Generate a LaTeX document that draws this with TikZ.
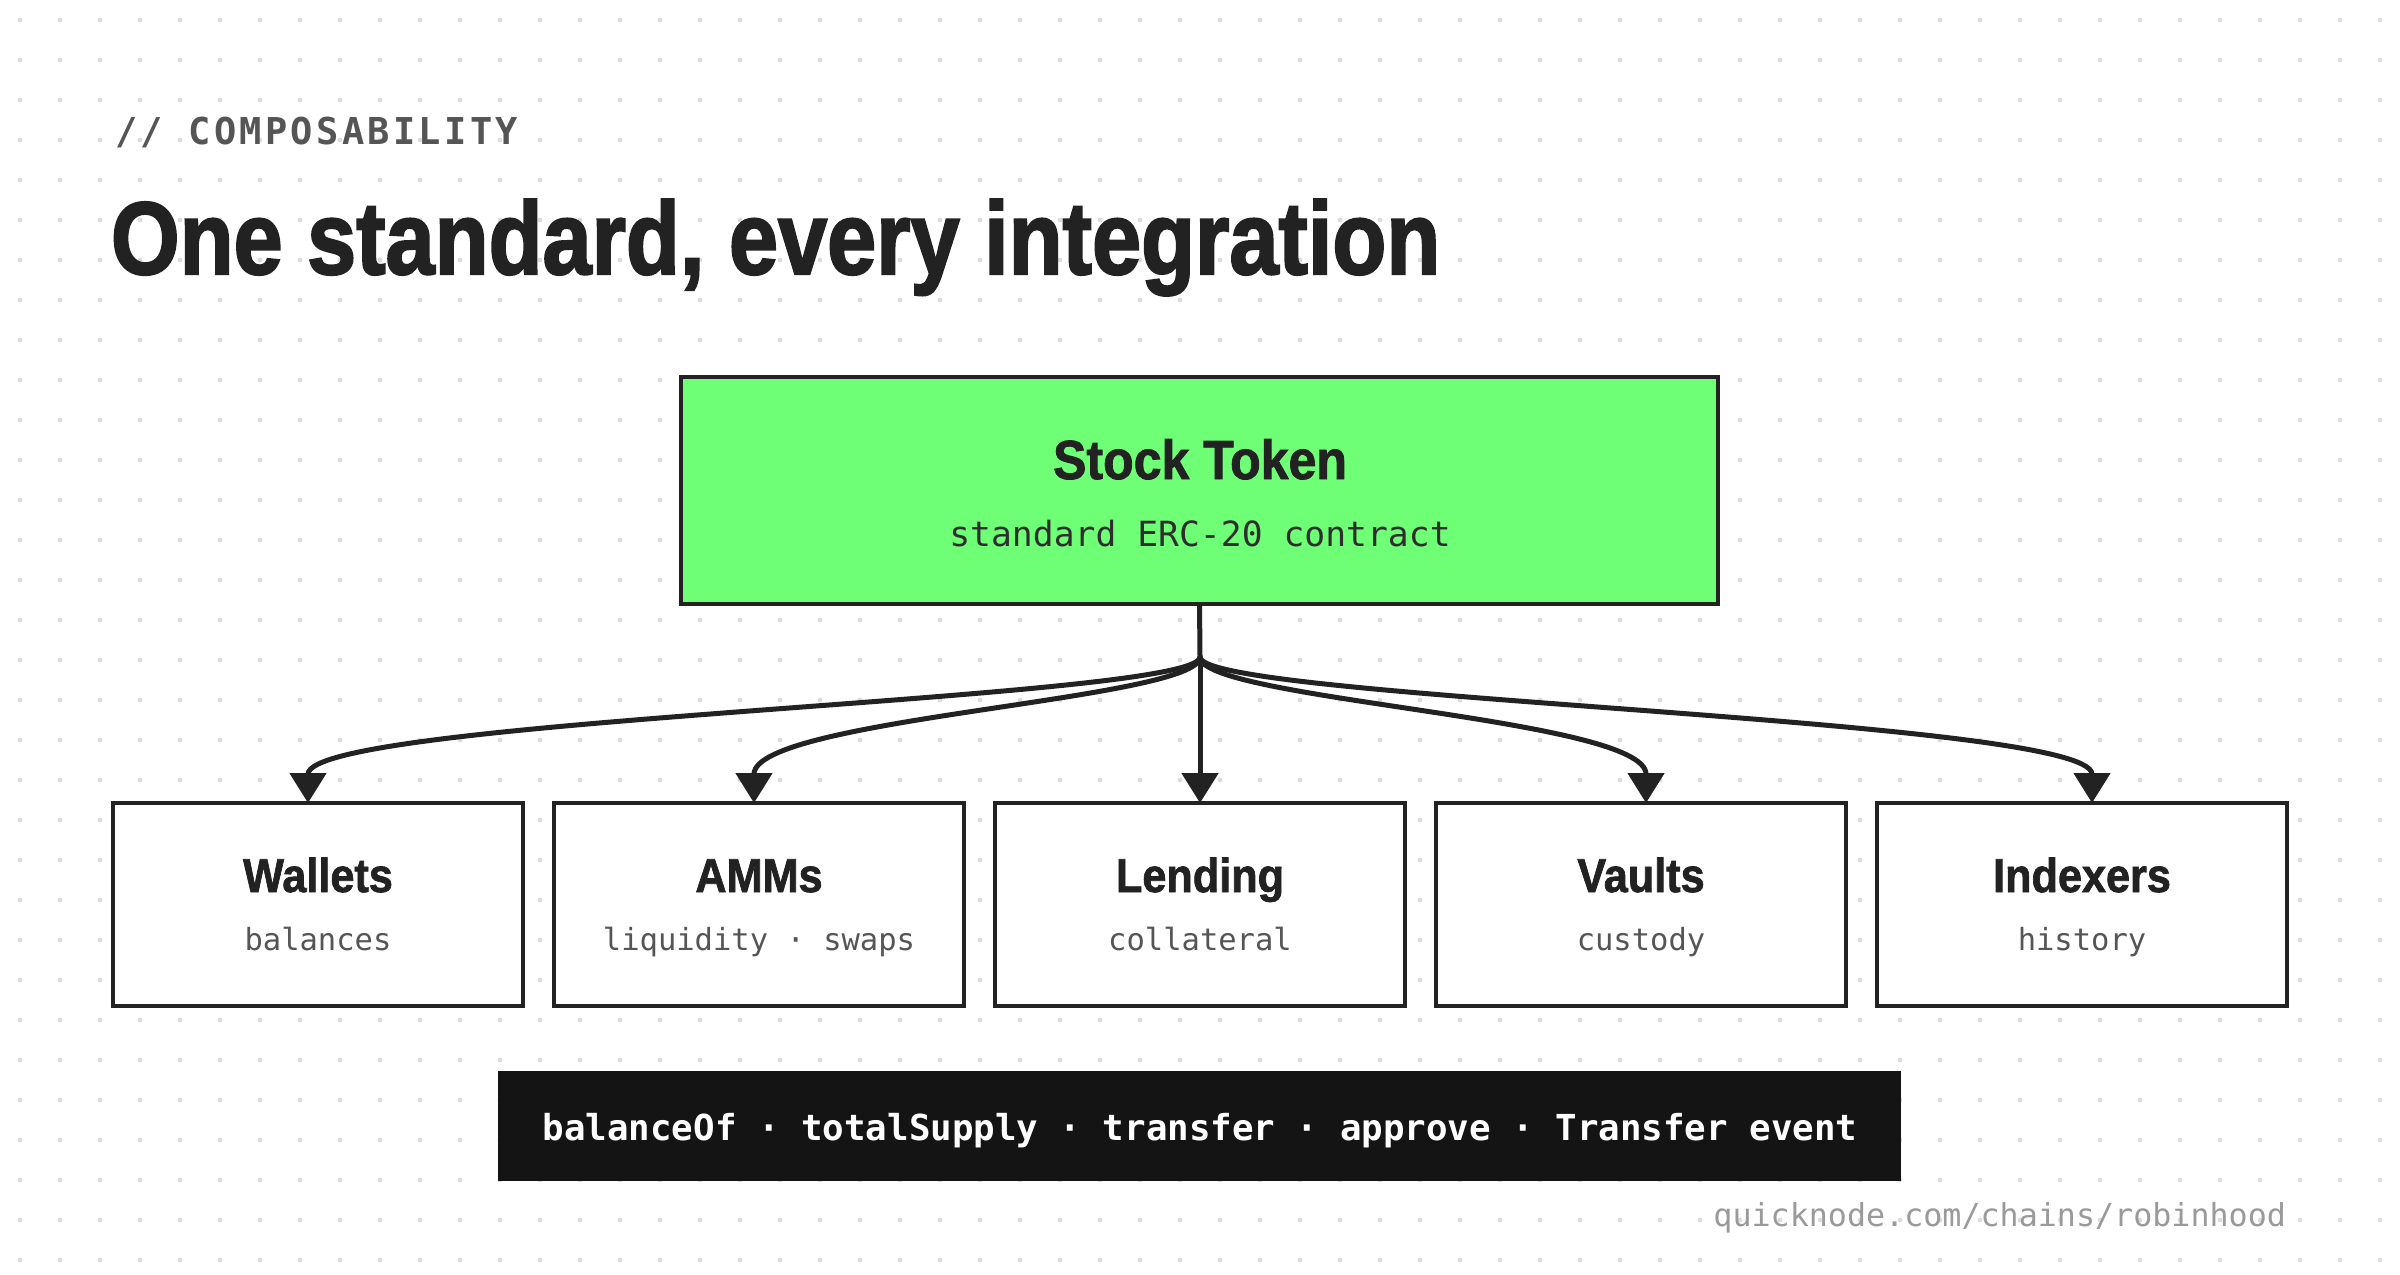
\documentclass[tikz,border=0pt]{standalone}
\usepackage{fontspec}
\usetikzlibrary{arrows.meta,calc}
\newfontfamily\headfont{Liberation Sans Bold}[FakeBold=2.2]
\newfontfamily\cardfont{Liberation Sans Bold}[FakeBold=1.6]
\newfontfamily\codefont{DejaVu Sans Mono}
\newfontfamily\kickfont{DejaVu Sans Mono}[LetterSpace=9]
\definecolor{ink}{HTML}{222222}
\definecolor{dotc}{HTML}{DCDCDC}
\definecolor{tokgreen}{RGB}{110,255,118}
\definecolor{subgray}{HTML}{555555}
\definecolor{subdark}{HTML}{2E2E2E}
\definecolor{barblack}{HTML}{141414}
\definecolor{footgray}{HTML}{9A9A9A}
\tikzset{
  card/.style={draw=ink, line width=4pt, fill=white, minimum width=410pt, minimum height=203pt, inner sep=0pt, outer sep=0pt},
  txt/.style={inner sep=0pt, outer sep=0pt, anchor=base},
  cardtitle/.style={txt, text=ink, font=\cardfont\fontsize{47.5}{50}\selectfont},
  cardsub/.style={txt, text=subgray, font=\codefont\fontsize{30.5}{33}\selectfont},
  conn/.style={draw=ink, line width=5pt},
  arr/.style={conn, -{Triangle[length=30pt,width=36pt]}}
}
\begin{document}
\begin{tikzpicture}[x=1pt,y=-1pt]
\useasboundingbox (0,0) rectangle (2400,1274);
\fill[white] (0,0) rectangle (2400,1274);
\foreach \ii in {0,...,59}{\foreach \jj in {0,...,31}{\fill[dotc] (20+40*\ii,20+40*\jj) circle (2.4);}}

% header
\node[txt, anchor=base west, text=subgray, font=\kickfont\bfseries\fontsize{37}{40}\selectfont] (kicker) at (115,144) {// COMPOSABILITY};
\node[txt, anchor=base west, text=ink, font=\headfont\fontsize{103}{110}\selectfont] (title) at (111,274) {\scalebox{0.857}[1]{One standard, every integration}};

% token box
\node[card, fill=tokgreen, minimum width=1037pt, minimum height=227pt] (st) at (1199.5,490.5) {};
\node[txt, text=ink, font=\cardfont\fontsize{55}{58}\selectfont] (sttitle) at (1200,479) {\scalebox{0.91}[1]{Stock Token}};
\node[txt, text=subdark, font=\codefont\fontsize{34.7}{37}\selectfont] (stsub) at (1200,546) {standard ERC-20 contract};

% integration boxes
\node[card] (w) at (318,904.5) {};
\node[card] (a) at (759,904.5) {};
\node[card] (l) at (1200,904.5) {};
\node[card] (v) at (1641,904.5) {};
\node[card] (ix) at (2082,904.5) {};
\node[cardtitle] (wt) at (318,892) {\scalebox{0.91}[1]{Wallets}};
\node[cardtitle] (at) at (759,892) {\scalebox{0.91}[1]{AMMs}};
\node[cardtitle] (lt) at (1200,892) {\scalebox{0.91}[1]{Lending}};
\node[cardtitle] (vt) at (1641,892) {\scalebox{0.91}[1]{Vaults}};
\node[cardtitle] (ixt) at (2082,892) {\scalebox{0.91}[1]{Indexers}};
\node[cardsub] (ws) at (318,950) {balances};
\node[cardsub] (as) at (759,950) {liquidity · swaps};
\node[cardsub] (ls) at (1200,950) {collateral};
\node[cardsub] (vs) at (1641,950) {custody};
\node[cardsub] (ixs) at (2082,950) {history};

% connectors
\coordinate (jn) at (1200,657);
\draw[conn] (st.south) -- (jn);
\draw[arr] (jn) .. controls +(0,43) and +(0,-85) .. ($(w.north)+(-10,0)$);
\draw[arr] (jn) .. controls +(0,43) and +(0,-85) .. ($(a.north)+(-5,0)$);
\draw[arr] (jn) -- (l.north);
\draw[arr] (jn) .. controls +(0,43) and +(0,-85) .. ($(v.north)+(5,0)$);
\draw[arr] (jn) .. controls +(0,43) and +(0,-85) .. ($(ix.north)+(10,0)$);

% api bar
\node[fill=barblack, minimum width=1403pt, minimum height=110pt, inner sep=0pt, outer sep=0pt] (api) at (1199.5,1126) {};
\node[txt, text=white, font=\codefont\bfseries\fontsize{35.8}{38}\selectfont] (apit) at (1200,1140) {balanceOf · totalSupply · transfer · approve · Transfer event};

% footer
\node[txt, anchor=base east, text=footgray, font=\codefont\fontsize{31.7}{34}\selectfont] (url) at (2286,1226) {quicknode.com/chains/robinhood};
\end{tikzpicture}
\end{document}
